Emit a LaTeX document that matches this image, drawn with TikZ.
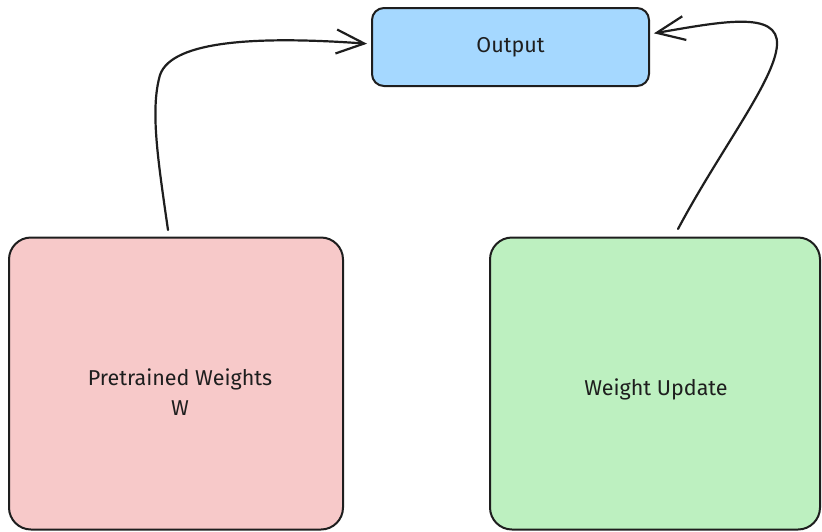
\documentclass[tikz,border=0pt]{standalone}
\usepackage{fontspec}
\setmainfont{Fira Sans}
\usetikzlibrary{arrows.meta}
\definecolor{boxblue}{HTML}{A5D8FF}
\definecolor{boxpink}{HTML}{F7C9C9}
\definecolor{boxgreen}{HTML}{BDF0C0}
\definecolor{inkc}{HTML}{1E1E1E}
\begin{document}
\begin{tikzpicture}[x=1pt,y=-1pt,
  card/.style={draw=inkc,line width=2pt,rounded corners=22pt,inner sep=0pt},
  lbl/.style={font=\fontsize{21.5}{30}\selectfont,text=inkc,align=center},
  conn/.style={draw=inkc,line width=2.2pt,line cap=round,shorten >=4pt,-{Straight Barb[length=28pt,width=24pt,line width=2.2pt]}}]
\useasboundingbox (0,0) rectangle (822,531);
\node[card,fill=boxblue,rounded corners=12pt,minimum width=277pt,minimum height=78pt] (out) at (510.5,47) {};
\node[card,fill=boxpink,minimum width=334pt,minimum height=292pt] (pre) at (176,383.5) {};
\node[card,fill=boxgreen,minimum width=330pt,minimum height=292pt] (upd) at (655,383.5) {};
\node[lbl] (outt) at (out.center) {Output};
\node[lbl] (pret) at (180,392) {Pretrained Weights\\W};
\node[lbl] (updt) at (656,389) {Weight Update};
\coordinate (a1) at (168,230);
\coordinate (a2) at (678,229);
\draw[conn] (a1) .. controls (158,160) and (150,110) .. (160,75)
  .. controls (172,40) and (260,36) .. (out.west |- 0,44);
\draw[conn] (a2) .. controls (720,150) and (775,80) .. (777,45)
  .. controls (779,10) and (720,22) .. (out.east |- 0,34);
\end{tikzpicture}
\end{document}
